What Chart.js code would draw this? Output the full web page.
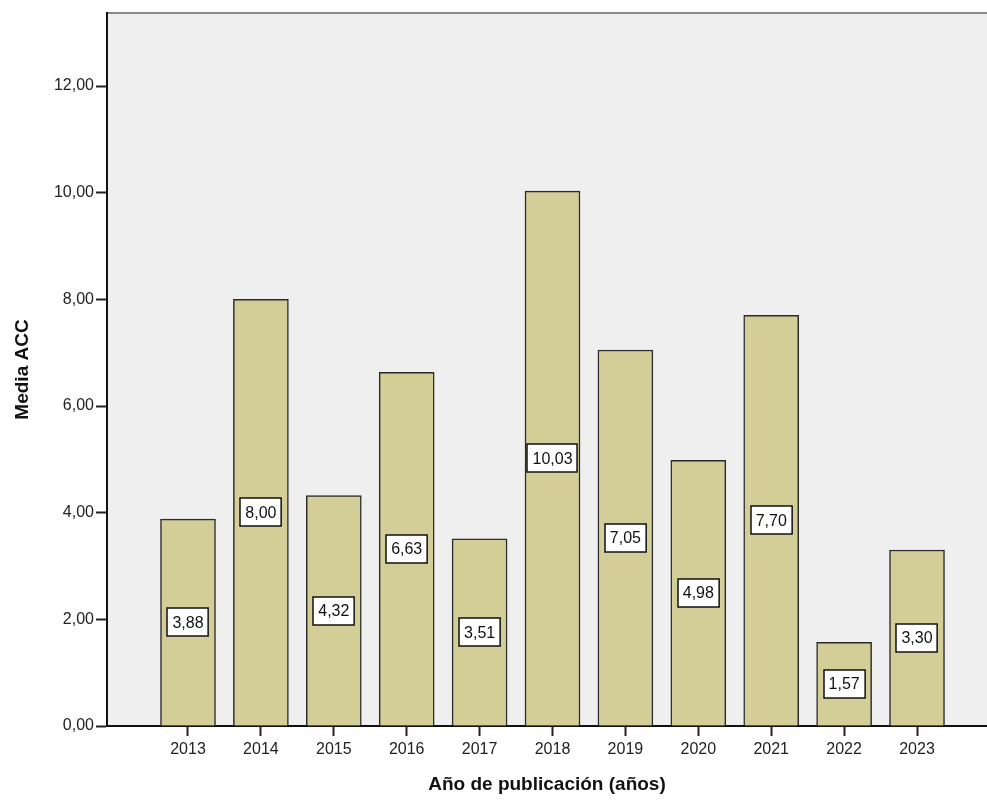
<!DOCTYPE html>
<html>
<head>
<meta charset="utf-8">
<script src="https://cdn.jsdelivr.net/npm/chart.js@4.4.0/dist/chart.umd.min.js"></script>
<style>
  html, body { margin: 0; padding: 0; background: #ffffff; }
  canvas { display: block; }
</style>
</head>
<body>
<canvas id="chart" width="987" height="801"></canvas>
<script>
// data
var years = [2013, 2014, 2015, 2016, 2017, 2018, 2019, 2020, 2021, 2022, 2023];
var mediaACC = [3.88, 8.00, 4.32, 6.63, 3.51, 10.03, 7.05, 4.98, 7.70, 1.57, 3.30];
var yTicks = [0, 2, 4, 6, 8, 10, 12];

function comma(v) {
    return v.toFixed(2).replace(".", ",");
}

Chart.defaults.font.family = "'Liberation Sans', Arial, sans-serif";
Chart.defaults.color = "#222222";

// grey plot background and top frame line
var plotBack = {
    id: "plotBack",
    beforeDraw: function (chart) {
        var a = chart.chartArea;
        var ctx = chart.ctx;
        ctx.save();
        ctx.fillStyle = "#efefef";
        ctx.fillRect(a.left, a.top, a.right - a.left, a.bottom - a.top);
        ctx.strokeStyle = "#8a8a8a";
        ctx.lineWidth = 2;
        ctx.beginPath();
        ctx.moveTo(a.left, a.top);
        ctx.lineTo(a.right, a.top);
        ctx.stroke();
        ctx.restore();
    }
};

// white value boxes in the middle of each bar
var valueBoxes = {
    id: "valueBoxes",
    afterDatasetsDraw: function (chart) {
        var ctx = chart.ctx;
        var meta = chart.getDatasetMeta(0);
        ctx.save();
        ctx.font = "16px 'Liberation Sans', Arial, sans-serif";
        ctx.textAlign = "center";
        ctx.textBaseline = "middle";
        meta.data.forEach(function (bar, i) {
            var txt = comma(mediaACC[i]);
            var w = ctx.measureText(txt).width + 10;
            var h = 28;
            var cy = (bar.y + bar.base) / 2;
            var x0 = Math.round(bar.x - w / 2);
            var y0 = Math.round(cy - h / 2);
            ctx.fillStyle = "#ffffff";
            ctx.fillRect(x0, y0, w, h);
            ctx.strokeStyle = "#111111";
            ctx.lineWidth = 1.5;
            ctx.strokeRect(x0, y0, w, h);
            ctx.fillStyle = "#111111";
            ctx.fillText(txt, bar.x, cy + 1);
        });
        ctx.restore();
    }
};

var points = years.map(function (y, i) {
    return { x: y, y: mediaACC[i] };
});

var ctx0 = document.getElementById("chart");
var myChart = new Chart(ctx0, {
    type: "bar",
    data: {
        datasets: [{
            label: "Media ACC",
            data: points,
            backgroundColor: "#d3ce97",
            borderColor: "#2b2b2b",
            borderWidth: 1.5,
            barThickness: 55
        }]
    },
    options: {
        responsive: false,
        animation: false,
        layout: { padding: { top: 13, left: 0, right: 0, bottom: 0 } },
        plugins: {
            legend: { display: false },
            tooltip: { enabled: false }
        },
        scales: {
            x: {
                type: "linear",
                offset: false,
                min: 2011.889,
                max: 2023.96,
                afterBuildTicks: function (scale) {
                    scale.ticks = years.map(function (v) { return { value: v }; });
                },
                afterFit: function (scale) { scale.height = 75; },
                grid: {
                    offset: false,
                    drawOnChartArea: false,
                    drawTicks: true,
                    tickLength: 10,
                    tickWidth: 2,
                    tickColor: "#222222"
                },
                border: { display: true, color: "#111111", width: 2 },
                ticks: {
                    padding: 4,
                    maxRotation: 0,
                    font: { size: 16 },
                    color: "#222222",
                    callback: function (v) { return String(v); }
                },
                title: {
                    display: true,
                    text: "Año de publicación (años)",
                    font: { size: 19, weight: "bold" },
                    color: "#111111",
                    padding: { top: 0, bottom: 5 }
                }
            },
            y: {
                min: 0,
                max: 13.37,
                afterBuildTicks: function (scale) {
                    scale.ticks = yTicks.map(function (v) { return { value: v }; });
                },
                afterFit: function (scale) { scale.width = 107; },
                grid: {
                    drawOnChartArea: false,
                    drawTicks: true,
                    tickLength: 11,
                    tickWidth: 2,
                    tickColor: "#222222"
                },
                border: { display: true, color: "#111111", width: 2 },
                ticks: {
                    padding: 2,
                    font: { size: 16 },
                    color: "#222222",
                    callback: function (v) { return comma(v); }
                },
                title: {
                    display: true,
                    text: "Media ACC",
                    font: { size: 19, weight: "bold" },
                    color: "#111111",
                    padding: { top: 11, bottom: 0 }
                }
            }
        }
    },
    plugins: [plotBack, valueBoxes]
});
</script>
</body>
</html>
